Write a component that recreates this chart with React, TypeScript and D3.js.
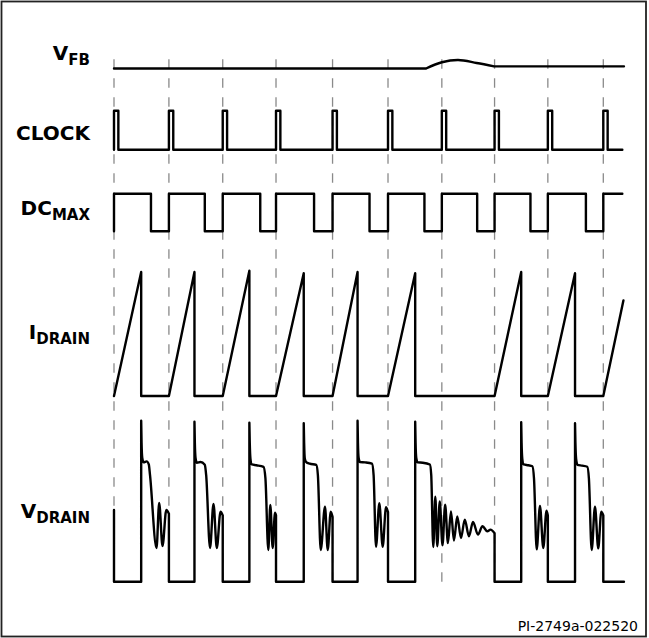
import React from 'react';
import * as d3 from 'd3';

// ---- timing data (µs, clock period ≈ 10 µs) ----
const clockEdges = [0, 10.1, 20.0, 29.8, 40.2, 50.4, 60.3, 70.0, 79.8, 90.0];
const clockPulseWidth = 0.8;
const dcMaxOff = [6.8, 16.7, 26.9, 36.8, 47.0, 57.1, 66.8, 76.6, 86.8];
const switchOn = [0, 10.1, 20.0, 29.8, 40.2, 50.4, 70.0, 79.8, 90.0];
const switchOff = [5.0, 14.8, 24.9, 34.9, 44.8, 55.4, 74.9, 84.8];
const idrainPeak = [1.0, 1.0, 1.01, 0.99, 1.0, 0.99, 1.0, 0.99];
const idrainFinal = 0.77;
const tEnd = 93.7;

// V_FB (relative units)
const vfbBefore = 0;
const vfbBump: [number, number][] = [[57.4, 0], [60.3, 0.52], [63.3, 0.71], [66.7, 0.46], [69.9, 0.18]];
const vfbAfter = 0.18;

// V_DRAIN (relative %, spike ≈ 100)
const vdrainStart = 44.3;
const vdrainCycle1: [number, number][] = [[5.0, 99.6], [5.07, 86], [5.2, 76.5], [5.45, 73.8], [6.0, 74.4], [6.4, 72.5], [6.62, 66], [7.82, 20.8], [8.31, 48.7], [8.92, 22.0], [9.62, 44.3], [10.1, 42]];
const vdrainCycle2: [number, number][] = [[14.8, 98.9], [14.87, 86], [15.0, 76.5], [15.25, 73.5], [15.9, 74.0], [16.7, 72.3], [16.95, 66], [17.66, 20.8], [18.3, 48.1], [18.91, 20.8], [19.59, 43.3], [20.0, 41]];
const vdrainCycle3: [number, number][] = [[24.9, 98.3], [24.97, 86], [25.1, 76], [25.35, 72.5], [26.2, 72.0], [27.5, 71.0], [27.85, 64], [28.38, 19.6], [28.75, 47.4], [29.19, 20.8], [29.61, 42.7], [29.8, 41]];
const vdrainCycle4: [number, number][] = [[34.9, 98.0], [34.97, 86], [35.1, 76], [35.35, 74.0], [36.0, 73.0], [37.2, 72.2], [37.5, 66], [38.02, 19.6], [38.81, 46.4], [39.31, 19.6], [39.86, 43.3], [40.2, 40]];
const vdrainCycle5: [number, number][] = [[44.8, 99.6], [44.87, 86], [45.0, 76.5], [45.25, 74.0], [46.2, 73.8], [47.45, 73.0], [47.75, 66], [48.19, 21.6], [48.8, 48.5], [49.42, 21.6], [50.03, 46.0], [50.4, 43]];
const vdrainCycle6: [number, number][] = [[55.4, 98.9], [55.47, 86], [55.6, 76.5], [55.85, 73.8], [56.8, 73.6], [58.1, 72.5], [58.35, 66], [58.72, 21.5], [59.1, 52.5], [59.46, 21.9], [59.92, 49.7], [60.42, 22.5], [60.91, 47.6], [61.42, 23.9], [61.98, 43.5], [62.53, 25.5], [63.14, 40.4], [63.82, 27.0], [64.52, 38.3], [65.29, 28.1], [66.03, 37.0], [66.95, 29.1], [67.78, 34.3], [68.66, 31.2], [69.25, 32.2], [70.0, 30.0]];
const vdrainCycle8: [number, number][] = [[74.9, 98.6], [74.97, 86], [75.1, 76], [75.35, 72.5], [76.2, 72.0], [76.95, 71.4], [77.25, 64], [77.75, 20.0], [78.35, 46.8], [78.96, 20.8], [79.55, 43.9], [79.8, 41]];
const vdrainCycle9: [number, number][] = [[84.8, 98.0], [84.87, 86], [85.0, 76], [85.25, 72.3], [86.1, 71.8], [87.05, 71.1], [87.35, 64], [87.86, 19.6], [88.47, 46.4], [89.07, 20.6], [89.63, 43.3], [90.0, 41]];
const vdrainCycles = [vdrainCycle1, vdrainCycle2, vdrainCycle3, vdrainCycle4, vdrainCycle5, vdrainCycle6, vdrainCycle8, vdrainCycle9];

const labelMain = ['V', 'CLOCK', 'DC', 'I', 'V'];
const labelSub = ['FB', '', 'MAX', 'DRAIN', 'DRAIN'];
const footnote = 'PI-2749a-022520';

// ---- layout ----
const W = 649, H = 638;
const x = d3.scaleLinear().domain([0, 90]).range([114, 603.3]);
const yVfb = d3.scaleLinear().domain([0, 1]).range([68.5, 56.5]);
const yClk = d3.scaleLinear().domain([0, 1]).range([149.7, 110.7]);
const yDc = d3.scaleLinear().domain([0, 1]).range([231.3, 193.7]);
const yId = d3.scaleLinear().domain([0, 1]).range([396, 272]);
const yVd = d3.scaleLinear().domain([0, 100]).range([581.7, 420]);
const labelBaselines = [60, 140, 215, 339, 518.3];

type P = [number, number];
const lin = (ys: d3.ScaleLinear<number, number>) =>
  d3.line<P>().x((d) => x(d[0])).y((d) => ys(d[1]));

export default function App() {
  // V_FB
  const vfbLin = lin(yVfb);
  const vfbSmooth = lin(yVfb).curve(d3.curveCatmullRom.alpha(0.5));
  const vfbD =
    (vfbLin([[0, vfbBefore], vfbBump[0]]) || '') +
    (vfbSmooth(vfbBump) || '') +
    (vfbLin([vfbBump[vfbBump.length - 1], [93.8, vfbAfter]]) || '');

  // CLOCK
  const clkPts: P[] = [];
  clockEdges.forEach((t) => {
    clkPts.push([t, 0], [t, 1], [t + clockPulseWidth, 1], [t + clockPulseWidth, 0]);
  });
  clkPts.push([tEnd - 0.2, 0]);
  const clkD = lin(yClk)(clkPts) || '';

  // DC MAX
  const dcPts: P[] = [];
  clockEdges.forEach((t, i) => {
    dcPts.push([t, 0], [t, 1]);
    if (i < dcMaxOff.length) dcPts.push([dcMaxOff[i], 1], [dcMaxOff[i], 0]);
  });
  dcPts.push([tEnd - 0.2, 1]);
  const dcD = lin(yDc)(dcPts) || '';

  // I DRAIN
  const idPts: P[] = [];
  switchOff.forEach((off, i) => {
    idPts.push([switchOn[i], 0], [off, idrainPeak[i]], [off, 0]);
  });
  idPts.push([switchOn[switchOn.length - 1], 0], [tEnd, idrainFinal]);
  const idD = lin(yId)(idPts) || '';

  // V DRAIN
  const vdLin = lin(yVd);
  const vdSmooth = lin(yVd).curve(d3.curveMonotoneX);
  let vdD = '';
  let prevLevel = vdrainStart;
  switchOff.forEach((off, i) => {
    const on = switchOn[i];
    const cyc = vdrainCycles[i];
    vdD += vdLin([[on, prevLevel], [on, 0], [off, 0], cyc[0]]) || '';
    vdD += vdSmooth(cyc) || '';
    prevLevel = cyc[cyc.length - 1][1];
  });
  const lastOn = switchOn[switchOn.length - 1];
  vdD += vdLin([[lastOn, prevLevel], [lastOn, 0], [tEnd + 0.1, 0]]) || '';

  const traceStyle = {
    fill: 'none',
    stroke: '#000',
    strokeWidth: 2.4,
    strokeLinejoin: 'round' as const,
    strokeLinecap: 'round' as const,
  };

  return (
    <svg
      width={W}
      height={H}
      viewBox={`0 0 ${W} ${H}`}
      style={{ position: 'absolute', left: 0, top: 0, background: '#fff' }}
    >
      <rect x={0} y={0} width={W} height={H} fill="#fff" />
      <rect x={1.5} y={1.5} width={644.5} height={635} fill="none" stroke="#222" strokeWidth={1.8} />
      {clockEdges.map((t, i) => (
        <line
          key={i}
          x1={x(t)}
          x2={x(t)}
          y1={59.3}
          y2={581.7}
          stroke="#8a8a8a"
          strokeWidth={1.3}
          strokeDasharray="9.5 9.5"
        />
      ))}
      <path d={vfbD} {...traceStyle} />
      <path d={clkD} {...traceStyle} />
      <path d={dcD} {...traceStyle} />
      <path d={idD} {...traceStyle} />
      <path d={vdD} {...traceStyle} />
      {labelMain.map((m, i) => (
        <text
          key={i}
          x={90}
          y={labelBaselines[i]}
          textAnchor="end"
          fontFamily="'DejaVu Sans', Verdana, sans-serif"
          fontWeight="bold"
          fontSize={20}
          fill="#000"
        >
          {m}
          {labelSub[i] ? (
            <tspan fontSize={15} dy={4.6}>
              {labelSub[i]}
            </tspan>
          ) : null}
        </text>
      ))}
      <text
        x={638}
        y={631}
        textAnchor="end"
        fontFamily="'DejaVu Sans', Verdana, sans-serif"
        fontSize={14}
        fill="#000"
      >
        {footnote}
      </text>
    </svg>
  );
}
